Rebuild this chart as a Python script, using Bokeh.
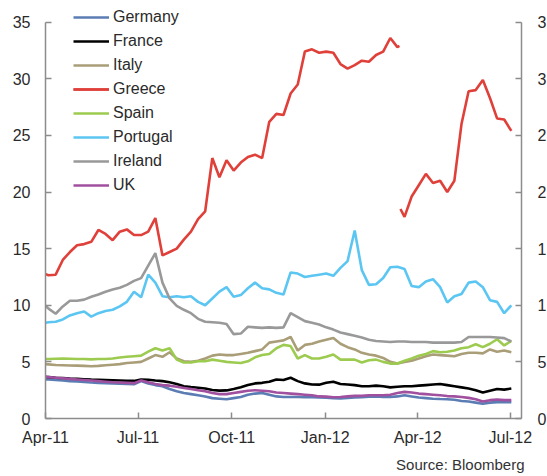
from datetime import date, datetime, timedelta
import numpy as np
from bokeh.plotting import figure
from bokeh.models import Range1d, LinearAxis, FixedTicker, DatetimeTickFormatter, Title
from bokeh.embed import file_html
from bokeh.resources import INLINE

# ---- data (10y government bond yields, %) ----
start_day = date(2011, 4, 1)
first_monday = date(2011, 4, 4)
dates = [start_day] + [first_monday + timedelta(weeks=i) for i in range(66)]

germany = [3.45, 3.45, 3.40, 3.35, 3.30, 3.27, 3.22, 3.18, 3.15, 3.12,
           3.10, 3.07, 3.05, 3.03, 3.30, 3.10, 2.95, 2.85, 2.60, 2.40,
           2.25, 2.15, 2.05, 1.95, 1.80, 1.75, 1.70, 1.80, 1.90, 2.10,
           2.20, 2.25, 2.10, 1.95, 1.90, 1.90, 1.90, 1.88, 1.87, 1.85,
           1.83, 1.80, 1.78, 1.82, 1.85, 1.88, 1.92, 1.95, 1.90, 1.90,
           1.95, 2.05, 1.95, 1.85, 1.80, 1.75, 1.72, 1.70, 1.65, 1.55,
           1.50, 1.40, 1.30, 1.40, 1.45, 1.45, 1.45]
france = [3.67, 3.65, 3.60, 3.57, 3.53, 3.50, 3.47, 3.44, 3.42, 3.40,
          3.38, 3.36, 3.34, 3.32, 3.45, 3.42, 3.35, 3.30, 3.20, 3.05,
          2.85, 2.78, 2.72, 2.65, 2.52, 2.46, 2.48, 2.60, 2.75, 2.95,
          3.10, 3.15, 3.25, 3.45, 3.40, 3.60, 3.30, 3.10, 3.00, 2.99,
          3.15, 3.25, 3.05, 3.00, 2.95, 2.85, 2.85, 2.90, 2.85, 2.75,
          2.80, 2.85, 2.85, 2.90, 2.95, 3.00, 3.05, 2.95, 2.85, 2.75,
          2.65, 2.50, 2.30, 2.45, 2.60, 2.55, 2.65]
italy = [4.80, 4.78, 4.72, 4.70, 4.68, 4.67, 4.65, 4.62, 4.65, 4.70,
         4.75, 4.80, 4.90, 4.95, 5.00, 5.30, 5.60, 5.45, 5.85, 5.30,
         5.05, 5.00, 5.10, 5.30, 5.55, 5.65, 5.60, 5.60, 5.70, 5.80,
         5.95, 6.10, 6.70, 6.80, 6.90, 7.20, 6.00, 6.50, 6.60, 6.80,
         6.95, 7.10, 6.60, 6.30, 6.10, 5.80, 5.65, 5.55, 5.35, 5.00,
         4.85, 5.00, 5.10, 5.30, 5.50, 5.65, 5.60, 5.55, 5.50, 5.70,
         5.80, 5.80, 5.75, 6.10, 5.90, 6.00, 5.85]
greece_1 = [12.75, 12.65, 12.70, 14.00, 14.70, 15.30, 15.40, 15.60, 16.65, 16.30,
            15.75, 16.50, 16.70, 16.20, 16.20, 16.50, 17.70, 14.40, 14.70, 15.00,
            15.80, 16.50, 17.60, 18.30, 23.00, 21.30, 22.80, 21.90, 22.60, 23.10,
            23.30, 23.00, 26.20, 26.90, 26.80, 28.70, 29.50, 32.40, 32.60, 32.30,
            32.40, 32.30, 31.30, 30.90, 31.20, 31.60, 31.50, 32.10, 32.40, 33.60,
            32.80, 32.90]
greece_2 = [18.50, 17.80, 19.60, 20.60, 21.60, 20.80, 21.00, 20.00, 21.00, 26.00,
            28.90, 29.00, 29.90, 28.30, 26.50, 26.40, 25.40]
spain = [5.25, 5.25, 5.28, 5.30, 5.28, 5.25, 5.25, 5.22, 5.25, 5.25,
         5.30, 5.38, 5.45, 5.50, 5.55, 5.90, 6.20, 6.00, 6.20, 5.20,
         4.95, 4.95, 5.05, 5.05, 5.20, 5.10, 5.00, 4.95, 4.90, 5.05,
         5.40, 5.60, 5.70, 6.20, 6.50, 6.40, 5.30, 5.60, 5.30, 5.30,
         5.45, 5.65, 5.20, 5.20, 5.20, 4.95, 5.15, 5.20, 5.00, 4.85,
         4.85, 5.10, 5.30, 5.55, 5.70, 5.95, 5.85, 5.90, 6.00, 6.20,
         6.30, 6.55, 6.30, 6.60, 7.00, 6.45, 6.85]
portugal = [8.45, 8.50, 8.55, 8.75, 9.10, 9.30, 9.45, 9.00, 9.30, 9.50,
            9.60, 9.90, 10.30, 11.20, 10.70, 12.70, 12.00, 10.80, 10.70, 10.80,
            10.70, 10.80, 10.30, 10.00, 10.60, 11.20, 11.60, 10.75, 10.90, 11.50,
            12.00, 11.50, 11.40, 11.10, 10.95, 12.90, 12.80, 12.50, 12.60, 12.70,
            12.80, 12.60, 13.30, 13.90, 16.60, 13.10, 11.80, 11.85, 12.40, 13.35,
            13.40, 13.20, 11.70, 11.60, 12.10, 12.30, 11.60, 10.25, 10.80, 11.00,
            12.00, 12.10, 11.60, 10.45, 10.30, 9.30, 10.00]
ireland = [9.95, 9.70, 9.25, 9.90, 10.40, 10.40, 10.50, 10.75, 10.95, 11.20,
           11.40, 11.55, 11.80, 12.15, 12.40, 13.50, 14.60, 12.00, 10.60, 9.95,
           9.60, 9.30, 8.80, 8.55, 8.50, 8.45, 8.35, 7.45, 7.50, 8.10,
           8.05, 8.00, 8.05, 8.00, 8.05, 9.30, 8.95, 8.60, 8.45, 8.30,
           8.05, 7.85, 7.60, 7.45, 7.30, 7.15, 6.95, 6.85, 6.80, 6.75,
           6.80, 6.80, 6.75, 6.75, 6.75, 6.70, 6.70, 6.70, 6.70, 6.75,
           7.20, 7.20, 7.20, 7.20, 7.15, 7.10, 6.80]
uk = [3.70, 3.65, 3.60, 3.55, 3.50, 3.45, 3.40, 3.35, 3.30, 3.25,
      3.20, 3.18, 3.15, 3.12, 3.35, 3.20, 3.05, 2.95, 2.90, 2.80,
      2.70, 2.60, 2.50, 2.40, 2.25, 2.15, 2.15, 2.25, 2.35, 2.45,
      2.50, 2.45, 2.40, 2.30, 2.25, 2.20, 2.15, 2.10, 2.05, 1.95,
      1.93, 1.88, 1.90, 1.95, 2.00, 2.00, 2.05, 2.05, 2.05, 2.10,
      2.25, 2.35, 2.30, 2.20, 2.15, 2.10, 2.05, 1.98, 1.95, 1.90,
      1.82, 1.70, 1.50, 1.62, 1.68, 1.62, 1.62]

greece_dates_1 = dates[:51] + [date(2012, 3, 14)]
greece_dates_2 = [date(2012, 3, 15)] + dates[51:]

tick_dates = [date(2011, 4, 1), date(2011, 7, 1), date(2011, 10, 1),
              date(2012, 1, 1), date(2012, 4, 1), date(2012, 7, 1)]
y_ticks = [0, 5, 10, 15, 20, 25, 30, 35]
right_tick_labels = ["0", "5", "1", "1", "2", "2", "3", "3"]


def ms(d):
    return (datetime(d.year, d.month, d.day) - datetime(1970, 1, 1)).total_seconds() * 1000.0


def dt(ds):
    return np.array([np.datetime64(d, "ms") for d in ds])


FONT = "Liberation Sans"
AXIS_COL = "#8c8c8c"
TEXT_COL = "#2a2a2a"

p = figure(frame_width=476, frame_height=414, x_axis_type="datetime",
           x_range=Range1d(ms(date(2011, 4, 1)), ms(date(2012, 7, 12))),
           y_range=Range1d(0, 36.56),
           output_backend="svg", toolbar_location=None,
           min_border_left=45, min_border_right=26, min_border_top=4,
           min_border_bottom=58)
p.outline_line_color = None
p.xgrid.visible = False
p.ygrid.visible = False
p.background_fill_color = "white"

series = [
    ("Germany", dates, germany, "#5b7db4"),
    ("France", dates, france, "#000000"),
    ("Italy", dates, italy, "#a99e78"),
    ("Greece", greece_dates_1, greece_1, "#e0403a"),
    ("Greece", greece_dates_2, greece_2, "#e0403a"),
    ("Spain", dates, spain, "#9ccb4f"),
    ("Portugal", dates, portugal, "#5cc6f3"),
    ("Ireland", dates, ireland, "#999999"),
    ("UK", dates, uk, "#a0509e"),
]
for name, ds, vals, col in series:
    p.line(dt(ds), vals, line_color=col, line_width=2.6, legend_label=name)

right_axis = LinearAxis(ticker=FixedTicker(ticks=y_ticks),
                        major_label_overrides={float(t): s for t, s in zip(y_ticks, right_tick_labels)})
p.add_layout(right_axis, "right")

p.xaxis[0].ticker = FixedTicker(ticks=[ms(d) for d in tick_dates])
p.xaxis[0].formatter = DatetimeTickFormatter(days="%b-%y", months="%b-%y", years="%b-%y",
                                             hours="%b-%y", minutes="%b-%y")
p.yaxis[0].ticker = FixedTicker(ticks=y_ticks)
p.yaxis[0].bounds = (0, 35)
right_axis.bounds = (0, 35)

for ax in [p.xaxis[0], p.yaxis[0], right_axis]:
    ax.axis_line_color = AXIS_COL
    ax.axis_line_width = 1.5
    ax.major_tick_line_color = AXIS_COL
    ax.major_tick_line_width = 1.5
    ax.major_tick_in = 6
    ax.major_tick_out = 0
    ax.minor_tick_line_color = None
    ax.major_label_text_font = FONT
    ax.major_label_text_font_size = "16px"
    ax.major_label_text_color = TEXT_COL
p.xaxis[0].major_label_standoff = 10
p.yaxis[0].major_label_standoff = 15
right_axis.major_label_standoff = 16

lg = p.legend[0]
lg.location = (28, 223)
lg.padding = 0
lg.margin = 0
lg.spacing = 4
lg.label_height = 20
lg.glyph_height = 20
lg.glyph_width = 36
lg.label_standoff = 4
lg.border_line_color = None
lg.background_fill_alpha = 0
lg.label_text_font = FONT
lg.label_text_font_size = "16px"
lg.label_text_color = TEXT_COL

src = Title(text="Source: Bloomberg", align="right", text_font=FONT,
            text_font_size="15px", text_font_style="normal", text_color="#333333",
            standoff=11, offset=-3)
p.add_layout(src, "below")

open("out.html", "w").write(file_html(p, INLINE))
